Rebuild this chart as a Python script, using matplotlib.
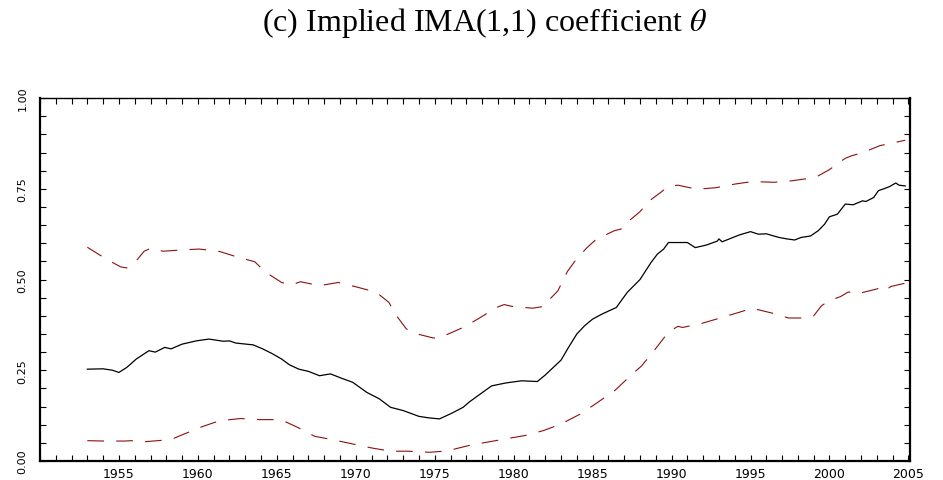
import matplotlib
matplotlib.use('Agg')
import matplotlib.pyplot as plt

plt.rcParams['mathtext.fontset'] = 'stix'

# Estimated IMA(1,1) theta (black) and its bands (dashed red)
theta_years = [1953.0, 1954.0, 1954.6, 1955.0, 1955.5, 1956.1, 1956.9, 1957.3, 1957.9, 1958.3,
               1959.0, 1959.9, 1960.7, 1961.6, 1962.0, 1962.4, 1963.5, 1964.1, 1964.7, 1965.3,
               1965.8, 1966.4, 1967.0, 1967.7, 1968.4, 1969.1, 1969.8, 1970.7, 1971.5, 1972.2,
               1973.0, 1974.0, 1974.6, 1975.3, 1976.0, 1976.8, 1977.2, 1977.9, 1978.6, 1979.5,
               1980.5, 1981.5, 1982.0, 1983.0, 1983.5, 1984.0, 1984.5, 1985.0, 1985.6, 1986.5,
               1987.2, 1988.0, 1988.7, 1989.1, 1989.5, 1989.8, 1991.0, 1991.5, 1992.2, 1992.9,
               1993.0, 1993.2, 1994.3, 1995.0, 1995.5, 1996.0, 1996.8, 1997.3, 1997.8, 1998.2,
               1998.8, 1999.3, 1999.7, 2000.0, 2000.5, 2001.0, 2001.5, 2002.1, 2002.3, 2002.8,
               2003.1, 2003.5, 2003.8, 2004.2, 2004.4, 2004.8]
theta = [0.253, 0.254, 0.250, 0.244, 0.258, 0.281, 0.304, 0.300, 0.313, 0.309,
         0.322, 0.331, 0.336, 0.330, 0.331, 0.325, 0.320, 0.309, 0.296, 0.281,
         0.265, 0.253, 0.247, 0.235, 0.240, 0.228, 0.217, 0.189, 0.171, 0.148,
         0.139, 0.123, 0.119, 0.116, 0.130, 0.148, 0.163, 0.185, 0.207, 0.215,
         0.221, 0.219, 0.237, 0.278, 0.315, 0.350, 0.373, 0.391, 0.405, 0.423,
         0.465, 0.500, 0.547, 0.570, 0.584, 0.602, 0.602, 0.588, 0.595, 0.606,
         0.612, 0.604, 0.623, 0.632, 0.625, 0.626, 0.616, 0.612, 0.609, 0.616,
         0.620, 0.635, 0.653, 0.673, 0.680, 0.708, 0.706, 0.717, 0.715, 0.726,
         0.745, 0.751, 0.756, 0.766, 0.760, 0.758]

upper_years = [1953.0, 1954.1, 1955.1, 1955.5, 1956.1, 1956.6, 1957.0, 1957.8, 1959.1, 1960.1,
               1961.4, 1962.5, 1963.6, 1964.3, 1965.3, 1965.9, 1966.5, 1967.7, 1968.9, 1970.1,
               1971.3, 1972.1, 1972.5, 1973.2, 1973.9, 1974.9, 1975.3, 1975.7, 1976.8, 1977.8,
               1978.9, 1979.4, 1979.9, 1981.2, 1981.9, 1982.2, 1982.8, 1983.4, 1983.9, 1984.6,
               1985.2, 1986.4, 1986.8, 1987.2, 1988.0, 1988.6, 1989.4, 1989.8, 1990.4, 1991.6,
               1992.8, 1994.0, 1995.1, 1996.5, 1997.6, 1998.9, 1999.3, 2000.0, 2001.0, 2001.4,
               2002.0, 2003.2, 2004.4, 2004.8]
upper = [0.589, 0.559, 0.535, 0.532, 0.552, 0.578, 0.586, 0.578, 0.582, 0.584,
         0.577, 0.562, 0.549, 0.520, 0.492, 0.485, 0.494, 0.483, 0.492, 0.479,
         0.465, 0.437, 0.405, 0.364, 0.350, 0.339, 0.339, 0.347, 0.368, 0.393,
         0.423, 0.431, 0.426, 0.421, 0.426, 0.442, 0.469, 0.522, 0.552, 0.586,
         0.610, 0.635, 0.639, 0.658, 0.687, 0.717, 0.743, 0.757, 0.760, 0.749,
         0.753, 0.763, 0.770, 0.768, 0.772, 0.780, 0.786, 0.803, 0.834, 0.841,
         0.848, 0.869, 0.880, 0.884]

lower_years = [1953.0, 1954.1, 1955.4, 1955.8, 1956.6, 1958.0, 1958.4, 1959.0, 1960.3, 1960.9,
               1961.4, 1962.7, 1963.9, 1965.2, 1965.6, 1966.3, 1967.4, 1968.5, 1969.8, 1971.0,
               1972.2, 1973.3, 1974.7, 1975.8, 1977.1, 1978.2, 1979.5, 1980.7, 1981.9, 1983.0,
               1984.2, 1985.0, 1986.4, 1987.5, 1988.1, 1988.8, 1989.3, 1989.8, 1990.4, 1990.7,
               1991.9, 1993.0, 1994.3, 1995.1, 1996.6, 1997.4, 1998.4, 1999.0, 1999.5, 2000.0,
               2000.7, 2001.2, 2001.7, 2003.0, 2003.4, 2003.6, 2003.9, 2004.8]
lower = [0.056, 0.055, 0.055, 0.056, 0.053, 0.058, 0.061, 0.072, 0.095, 0.104,
         0.111, 0.117, 0.114, 0.114, 0.107, 0.093, 0.068, 0.059, 0.047, 0.036,
         0.027, 0.027, 0.024, 0.028, 0.042, 0.051, 0.061, 0.070, 0.084, 0.102,
         0.129, 0.152, 0.194, 0.239, 0.262, 0.299, 0.327, 0.355, 0.371, 0.368,
         0.379, 0.393, 0.410, 0.421, 0.405, 0.394, 0.394, 0.400, 0.428, 0.442,
         0.453, 0.466, 0.460, 0.474, 0.480, 0.472, 0.481, 0.490]

x_ticks = list(range(1950, 2006))
x_labels = [str(y) if (y % 5 == 0 and y >= 1955) else '' for y in x_ticks]
y_ticks = [i * 0.05 for i in range(21)]
y_labels = ['%.2f' % v if i % 5 == 0 else '' for i, v in enumerate(y_ticks)]

fig = plt.figure(figsize=(9.43, 4.81), dpi=100)
ax = fig.add_axes([0.0424, 0.0395, 0.9226, 0.7545])

band_color = '#8b1010'
ax.plot(upper_years, upper, color=band_color, lw=0.8, dashes=(15, 11))
ax.plot(lower_years, lower, color=band_color, lw=0.8, dashes=(15, 11))
ax.plot(theta_years, theta, color='black', lw=0.9)

ax.set_xlim(1950, 2005.1)
ax.set_ylim(0, 1)

ax.set_xticks(x_ticks)
ax.set_xticklabels(x_labels, fontsize=9)
ax.set_yticks(y_ticks)
ax.set_yticklabels(y_labels, fontsize=8, rotation=90, va='center')
ax.tick_params(axis='both', direction='in', length=4, width=0.8,
               top=True, right=True, labelright=False)
ax.tick_params(axis='x', pad=4)
ax.tick_params(axis='y', pad=9)

for side in ['left', 'bottom', 'right']:
    ax.spines[side].set_linewidth(1.6)
ax.spines['top'].set_linewidth(1.0)

fig.text(0.514, 0.952, r'(c) Implied IMA(1,1) coefficient $\theta$',
         ha='center', va='center', fontsize=23, family='Liberation Serif')

fig.savefig('out.png', dpi=100)
